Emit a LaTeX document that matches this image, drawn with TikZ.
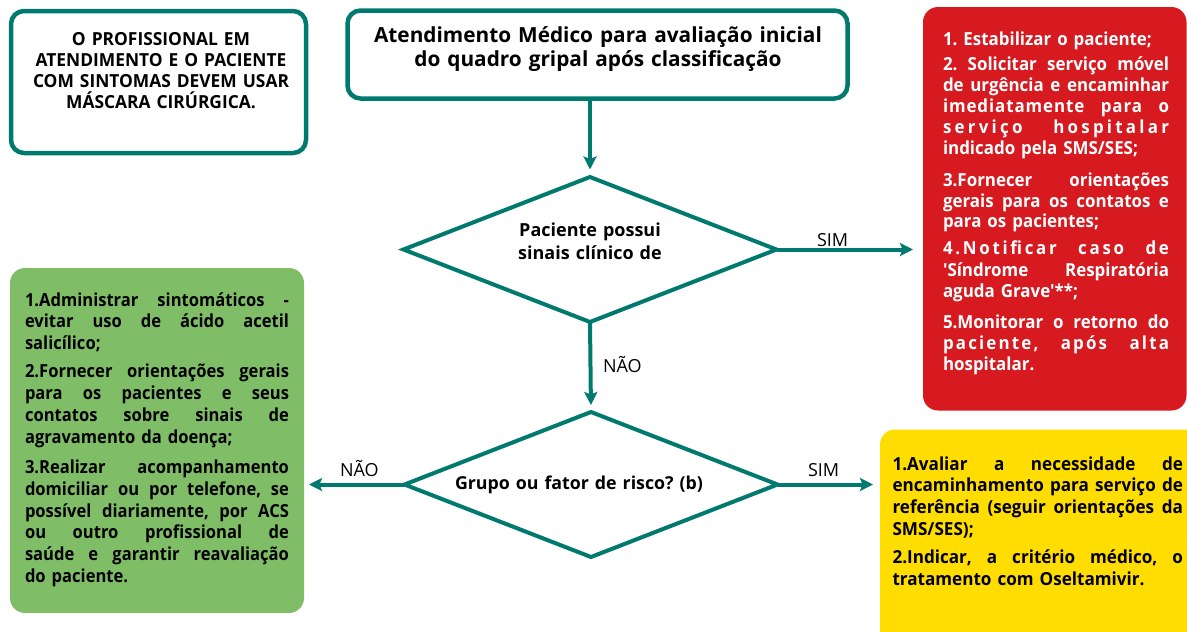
\documentclass[tikz,border=0pt]{standalone}
\usepackage{fontspec}
\setmainfont{Open Sans}
\newfontfamily\notefont{Open Sans}[FakeStretch=0.965]
\newfontfamily\greenfont{Open Sans}[FakeStretch=0.92]
\newfontfamily\redfont{Open Sans}[FakeStretch=0.94,Ligatures=TeXOff]
\newfontfamily\yellowfont{Open Sans}[FakeStretch=0.95]
\usetikzlibrary{shapes.geometric,arrows.meta}
\definecolor{flowteal}{RGB}{0,122,110}
\definecolor{alertred}{RGB}{215,25,32}
\definecolor{okgreen}{RGB}{127,190,103}
\definecolor{warnyellow}{RGB}{255,221,0}
\newcommand{\tallstrut}{\rule{0pt}{20pt}}
\newcommand{\jline}[1]{\hbox to\hsize{\spaceskip=0.25em plus 1fil minus 0.08em\relax\tallstrut#1}\par}
\newcommand{\nline}[1]{\hbox{\tallstrut#1}\par}
\newcommand{\midline}[1]{\hbox to\hsize{\hfil\tallstrut#1\hfil}\par}
\newcommand{\spaced}[2]{{\addfontfeature{LetterSpace=#1}#2}}
\frenchspacing
\tikzset{
  frame/.style={draw=flowteal, line width=4.5pt, rounded corners=13pt, fill=white,
    inner sep=0pt, outer sep=0pt, anchor=north west},
  panel/.style={rounded corners=15pt, inner sep=0pt, outer sep=0pt, anchor=north west},
  decision/.style={diamond, draw=flowteal, line width=4pt, fill=white, inner sep=0pt,
    outer sep=0pt, minimum width=373pt, minimum height=145pt},
  body/.style={inner sep=0pt, outer sep=0pt, anchor=north west,
    font=\bfseries\fontsize{18}{#1}\selectfont,
    execute at begin node={\lineskiplimit=-1000pt\frenchspacing}},
  flow/.style={draw=flowteal, line width=4pt,
    -{Stealth[length=13pt,width=13pt,inset=2.5pt]}},
  answer/.style={inner sep=0pt, outer sep=0pt, anchor=base west,
    font=\fontsize{18}{21}\selectfont}
}
\begin{document}
\begin{tikzpicture}[x=1pt,y=-1pt]
\useasboundingbox (0,0) rectangle (1187,632);
\clip (0,0) rectangle (1187,632);

% boxes
\node[frame, minimum width=295pt, minimum height=142pt] (note) at (11,11) {};
\node[frame, minimum width=500pt, minimum height=88pt] (head) at (347.5,10.5) {};
\node[panel, fill=alertred, minimum width=263.5pt, minimum height=403.5pt] (red) at (923,7) {};
\node[panel, fill=okgreen, minimum width=294pt, minimum height=345pt] (green) at (10,268) {};
\node[panel, fill=warnyellow, minimum width=330pt, minimum height=240pt] (yellow) at (880,429.5) {};
\node[decision] (d1) at (590,249.5) {};
\node[decision] (d2) at (591,484.5) {};

% texts
\node[body=20.9, text width=280pt, font=\notefont\bfseries\fontsize{18}{20.9}\selectfont] (notetext) at (21,25.7) {\midline{O PROFISSIONAL EM}
\midline{ATENDIMENTO E O PACIENTE}
\midline{COM SINTOMAS DEVEM USAR}
\midline{MÁSCARA CIRÚRGICA.}};

\node[body=24, text width=480pt, font=\bfseries\fontsize{20.8}{24}\selectfont] (headtext) at (358,22.7) {\midline{Atendimento Médico para avaliação inicial}
\midline{do quadro gripal após classificação}};

\node[body=22.6, text width=240pt] (d1text) at (470,216.7) {\midline{Paciente possui}
\midline{sinais clínico de}};

\node[body=22, text width=300pt, font=\bfseries\fontsize{17.8}{22}\selectfont] (d2text) at (429,469.5) {\midline{Grupo ou fator de risco? (b)}};

\node[body=21, text width=226pt, text=white, font=\redfont\bfseries\fontsize{18}{21}\selectfont] (redtext) at (943,25) {\nline{1. Estabilizar o paciente;}
\vspace{4.7pt}
\jline{2. Solicitar serviço móvel}
\jline{de urgência e encaminhar}
\jline{\spaced{5}{imediatamente para o}}
\jline{\spaced{18}{serviço hospitalar}}
\nline{indicado pela SMS/SES;}
\vspace{10.3pt}
\jline{3.Fornecer orientações}
\jline{gerais para os contatos e}
\nline{para os pacientes;}
\vspace{6pt}
\jline{\spaced{15}{4.Notificar caso de}}
\jline{'Síndrome Respiratória}
\nline{aguda Grave'**;}
\vspace{10.3pt}
\jline{5.Monitorar o retorno do}
\jline{\spaced{12}{paciente, após alta}}
\nline{hospitalar.}};

\node[body=21.9, text width=264pt, font=\greenfont\bfseries\fontsize{18}{21.9}\selectfont] (greentext) at (25,286) {\jline{1.Administrar sintomáticos -}
\jline{evitar uso de ácido acetil}
\nline{salicílico;}
\vspace{6.1pt}
\jline{2.Fornecer orientações gerais}
\jline{para os pacientes e seus}
\jline{contatos sobre sinais de}
\nline{agravamento da doença;}
\vspace{7.8pt}
\jline{3.Realizar acompanhamento}
\jline{domiciliar ou por telefone, se}
\jline{possível diariamente, por ACS}
\jline{ou outro profissional de}
\jline{saúde e garantir reavaliação}
\nline{do paciente.}};

\node[body=21.7, text width=290.5pt, font=\yellowfont\bfseries\fontsize{18}{21.7}\selectfont] (yellowtext) at (892.5,450) {\jline{1.Avaliar a necessidade de}
\jline{encaminhamento para serviço de}
\jline{referência (seguir orientações da}
\nline{SMS/SES);}
\vspace{6.6pt}
\jline{2.Indicar, a critério médico, o}
\nline{tratamento com Oseltamivir.}};

% connectors
\draw[flow, shorten >=7.5pt] (d1.north |- head.south) -- (d1.north);
\draw[flow, shorten >=10pt] (d1.east) -- (d1.east -| red.west);
\draw[flow, shorten >=7pt] (d1.south) -- (d2.north);
\draw[flow, shorten >=5pt] (d2.west) -- (d2.west -| green.east);
\draw[flow, shorten >=7pt] (d2.east) -- (d2.east -| yellow.west);

% answer labels
\node[answer] (simA) at (817,246) {SIM};
\node[answer] (naoA) at (603,372) {NÃO};
\node[answer] (naoB) at (340,476) {NÃO};
\node[answer] (simB) at (808,476) {SIM};
\end{tikzpicture}
\end{document}
